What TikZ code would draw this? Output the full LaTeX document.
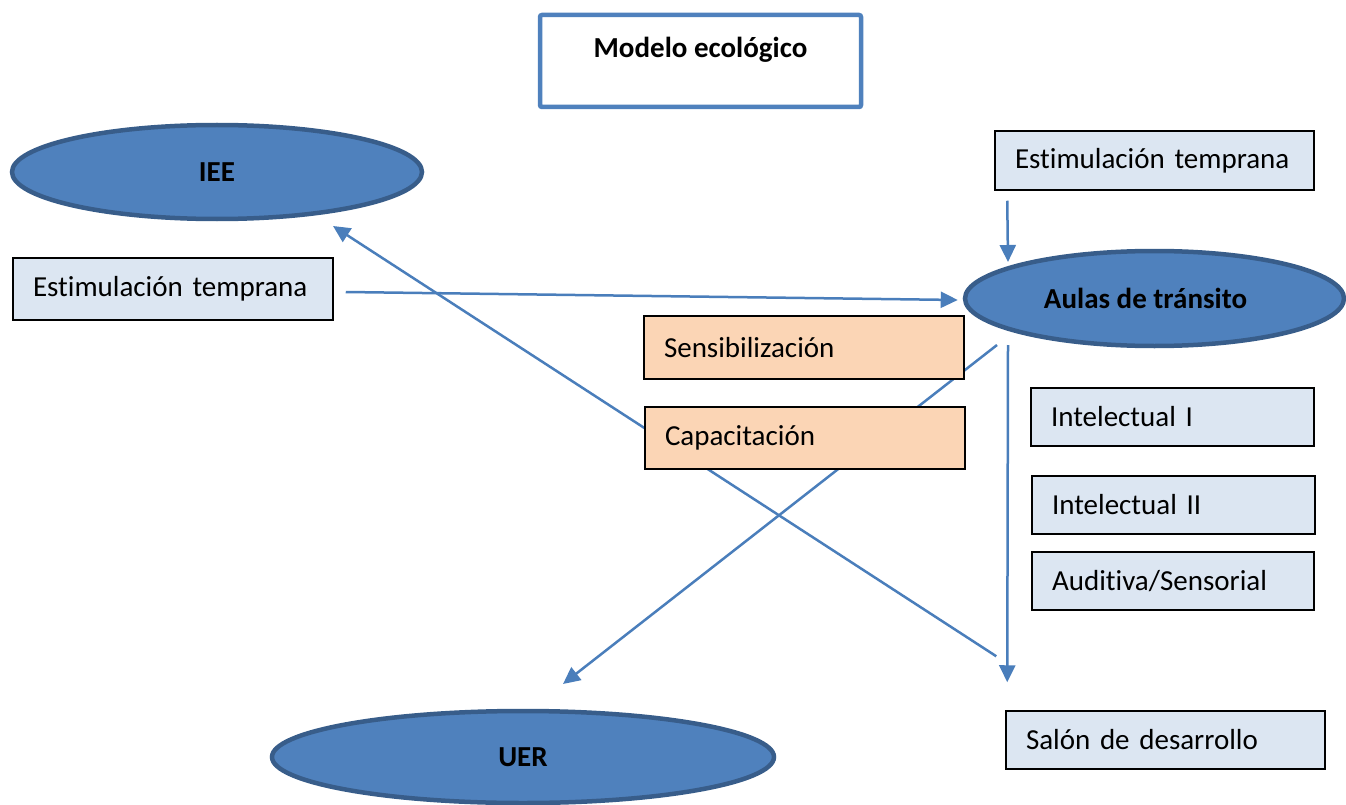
\documentclass[tikz,border=0pt]{standalone}
\usepackage{fontspec}
\setmainfont{Carlito}[Ligatures=NoCommon]
\usetikzlibrary{arrows.meta,backgrounds,shapes.geometric,calc}
\definecolor{ellfill}{HTML}{4F81BD}
\definecolor{elldraw}{HTML}{385D8A}
\definecolor{boxblue}{HTML}{DCE6F2}
\definecolor{peach}{HTML}{FBD5B5}
\definecolor{linecol}{HTML}{4A7EBB}
\begin{document}
\begin{tikzpicture}[x=1pt,y=-1pt,
  every node/.style={font=\fontsize{29}{35}\selectfont},
  ell/.style={ellipse, draw=elldraw, line width=4.5pt, fill=ellfill, inner sep=0pt, font=\fontsize{29}{35}\selectfont\bfseries},
  bbox/.style={rectangle, draw=black, line width=1.5pt, fill=boxblue, inner xsep=20pt, inner ysep=0pt, align=left},
  pbox/.style={bbox, fill=peach},
  titlebox/.style={rectangle, draw=ellfill, line width=4.5pt, rounded corners=2pt, fill=white, font=\fontsize{29}{35}\selectfont\bfseries},
  conn/.style={draw=linecol, line width=2.5pt},
  arr/.style={conn, -{Triangle[length=17pt,width=16pt]}}
]
\useasboundingbox (0,0) rectangle (1346,805);

\node[titlebox, minimum width=321pt, minimum height=92pt, text depth=27pt] (title) at (700.5,61) {Modelo ecológico};

\node[ell, minimum width=410pt, minimum height=94pt] (iee) at (217,172) {IEE};
\node[ell, minimum width=379pt, minimum height=95pt] (aulas) at (1154.5,298.5) {\hspace*{-18pt}Aulas de tránsito};
\node[ell, minimum width=502pt, minimum height=92pt] (uer) at (523,757) {UER};

\node[bbox, text width=280pt, minimum height=62pt] (estL) at (173,289) {Estimulación temprana};
\node[bbox, text width=279pt, minimum height=59pt] (estR) at (1154.5,160.5) {Estimulación temprana};
\node[pbox, text width=280pt, minimum height=63pt] (sens) at (804,347.5) {Sensibilización};
\node[pbox, text width=280pt, minimum height=62pt] (cap) at (805,438) {Capacitación};
\node[bbox, text width=243pt, minimum height=58pt] (int1) at (1172.5,417) {Intelectual I};
\node[bbox, text width=243pt, minimum height=58pt] (int2) at (1173.5,505) {Intelectual II};
\node[bbox, text width=242pt, minimum height=58pt] (aud) at (1173,581) {Auditiva/Sensorial};
\node[bbox, text width=279pt, minimum height=58pt] (salon) at (1165.5,740) {Salón de desarrollo};

\begin{scope}[on background layer]
  \draw[arr] ([shift={(12,3)}]estL.east) -- ([shift={(-5,1.5)}]aulas.west);
  \draw[arr] ([shift={(13,10)}]estR.south west) -- ([shift={(-146.5,-36.5)}]aulas.center);
  \draw[arr] ([shift={(-9,-54)}]salon.north west) -- ([shift={(116,54)}]iee.center);
  \draw[arr] ([shift={(-157.5,46.5)}]aulas.center) -- ([shift={(40,-73)}]uer.center);
  \draw[arr] ([shift={(-146.5,46.5)}]aulas.center) -- ([shift={(2,-28)}]salon.north west);
\end{scope}
\end{tikzpicture}
\end{document}
